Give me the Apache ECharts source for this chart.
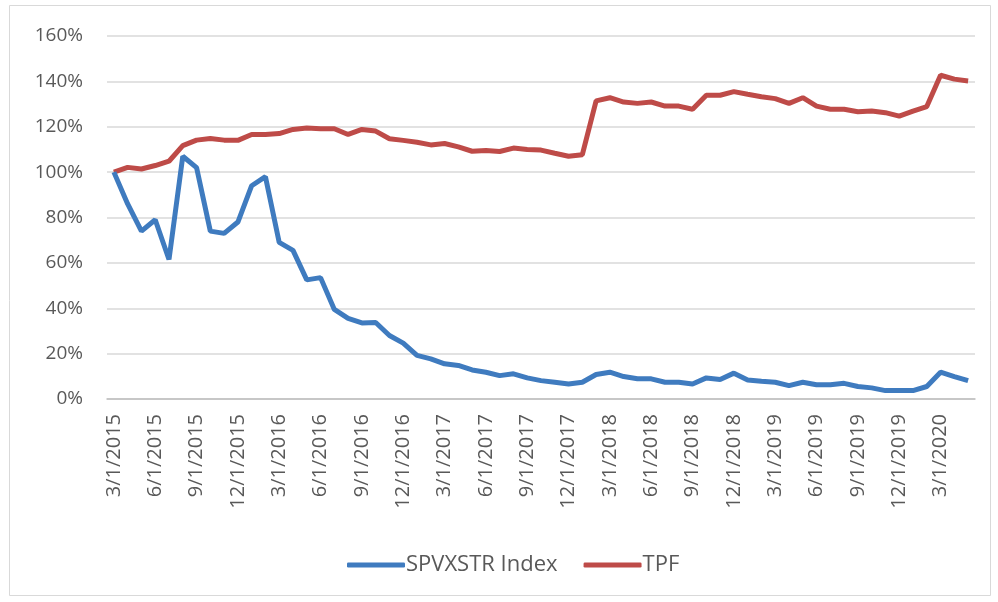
<!DOCTYPE html>
<html>
<head>
<meta charset="utf-8">
<script src="https://cdn.jsdelivr.net/npm/echarts@6/dist/echarts.min.js"></script>
<style>
html,body{margin:0;padding:0;background:#fff;}
#c{width:998px;height:602px;}
</style>
</head>
<body>
<div id="c"></div>
<script>
const categories = [
"3/1/2015","4/1/2015","5/1/2015","6/1/2015","7/1/2015","8/1/2015","9/1/2015","10/1/2015","11/1/2015","12/1/2015",
"1/1/2016","2/1/2016","3/1/2016","4/1/2016","5/1/2016","6/1/2016","7/1/2016","8/1/2016","9/1/2016","10/1/2016","11/1/2016","12/1/2016",
"1/1/2017","2/1/2017","3/1/2017","4/1/2017","5/1/2017","6/1/2017","7/1/2017","8/1/2017","9/1/2017","10/1/2017","11/1/2017","12/1/2017",
"1/1/2018","2/1/2018","3/1/2018","4/1/2018","5/1/2018","6/1/2018","7/1/2018","8/1/2018","9/1/2018","10/1/2018","11/1/2018","12/1/2018",
"1/1/2019","2/1/2019","3/1/2019","4/1/2019","5/1/2019","6/1/2019","7/1/2019","8/1/2019","9/1/2019","10/1/2019","11/1/2019","12/1/2019",
"1/1/2020","2/1/2020","3/1/2020","4/1/2020","5/1/2020"
];
const spvxstr = [
100,86,74,79,61.5,107,102,74,73,78,94,98,69,65.5,52.5,53.5,39.5,35.5,33.5,33.7,28,24.6,19.2,17.7,15.5,14.8,12.8,11.8,10.3,11.1,9.3,8.1,
7.4,6.6,7.4,10.8,11.8,9.9,8.9,8.9,7.4,7.4,6.6,9.3,8.6,11.4,8.4,7.8,7.4,5.9,7.4,6.3,6.3,6.9,5.5,4.9,3.7,3.7,3.7,5.5,11.8,9.9,8.1
];
const tpf = [
100,102.1,101.4,102.9,104.8,111.7,114.1,114.8,114.1,114,116.6,116.6,117,118.8,119.4,119.1,119.1,116.6,118.8,118.1,114.7,114,113.2,112,112.6,111.1,109.2,109.5,109.1,110.6,110,109.7,
108.3,107,107.7,131.4,132.8,130.9,130.3,130.9,129.1,129.1,127.7,133.9,133.9,135.5,134.3,133.2,132.4,130.3,132.8,129.1,127.7,127.7,126.6,126.9,126.2,124.7,126.9,128.9,142.7,141,140.2
];
const seriesNames = ["SPVXSTR Index","TPF"];
const yTicks = {min:0, max:160, interval:20};

const chart = echarts.init(document.getElementById('c'));
const font = '"Open Sans", "Liberation Sans", sans-serif';
chart.setOption({
  backgroundColor:'#fff',
  animation:false,
  graphic:[{type:'rect',shape:{x:9.5,y:5.5,width:981,height:590},style:{fill:'none',stroke:'#d9d9d9',lineWidth:1}}],
  grid:{left:107,right:23,top:36,bottom:203},
  legend:{
    bottom:21,left:342,itemWidth:58,itemHeight:5,itemGap:26,
    icon:'roundRect',
    textStyle:{color:'#595959',fontSize:22,fontFamily:font,padding:[0,0,0,-4]},
    data:seriesNames
  },
  xAxis:{
    type:'category',data:categories,boundaryGap:true,
    axisLine:{lineStyle:{color:'#bfbfbf',width:1.5}},
    axisTick:{interval:2,length:6,lineStyle:{color:'#bfbfbf',width:1.5}},
    axisLabel:{interval:2,rotate:90,color:'#595959',fontSize:20,fontFamily:font,margin:15}
  },
  yAxis:{
    type:'value',min:yTicks.min,max:yTicks.max,interval:yTicks.interval,
    axisLine:{show:false},axisTick:{show:false},
    splitLine:{lineStyle:{color:'#d9d9d9',width:1.5}},
    axisLabel:{formatter:'{value}%',color:'#595959',fontSize:19,fontFamily:font,margin:24}
  },
  series:[
    {name:seriesNames[0],type:'line',data:spvxstr,showSymbol:false,lineStyle:{width:5,color:'#3F7BBF'},itemStyle:{color:'#3F7BBF'},z:3},
    {name:seriesNames[1],type:'line',data:tpf,showSymbol:false,lineStyle:{width:5,color:'#BE4B48'},itemStyle:{color:'#BE4B48'},z:2}
  ]
});
</script>
</body>
</html>
